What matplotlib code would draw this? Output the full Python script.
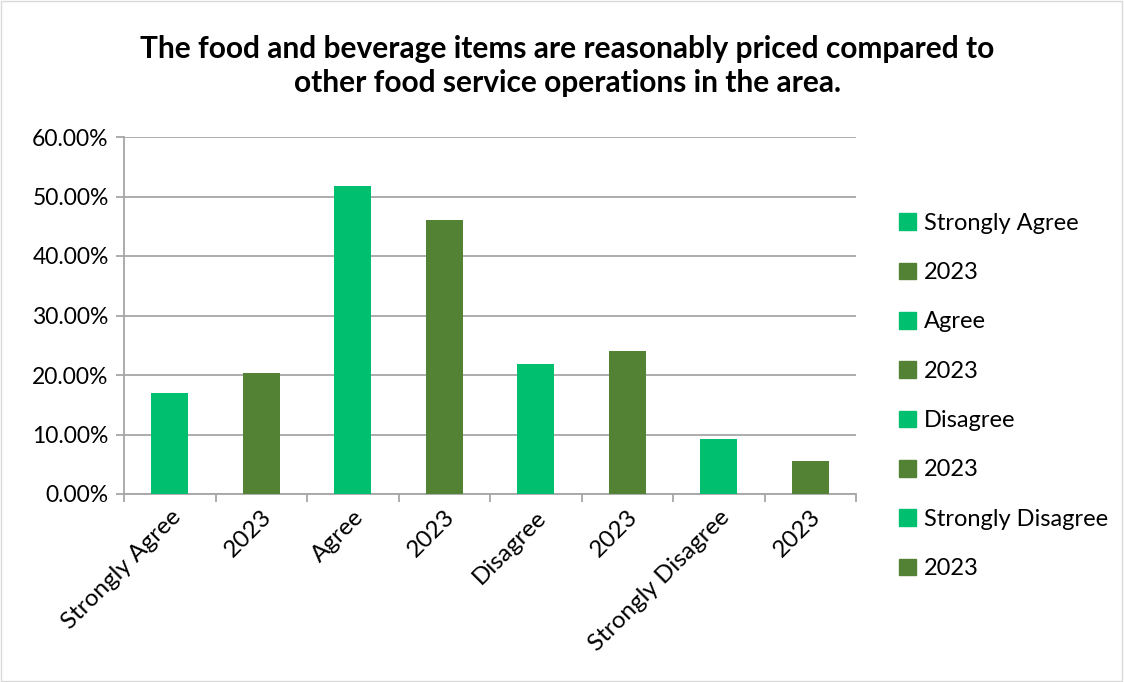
import matplotlib.pyplot as plt
from matplotlib.patches import Patch
from matplotlib.ticker import FuncFormatter

# data
categories = ['Strongly Agree', '2023', 'Agree', '2023', 'Disagree', '2023',
              'Strongly Disagree', '2023']
values = [16.9, 20.4, 51.7, 46.0, 21.9, 24.0, 9.2, 5.6]
bar_colors = ['#00BF6F', '#548235'] * 4

title = ('The food and beverage items are reasonably priced compared to\n'
         'other food service operations in the area.')

plt.rcParams['font.family'] = ['Lato', 'DejaVu Sans']

fig = plt.figure(figsize=(11.24, 6.82), dpi=100)
ax = fig.add_axes([124 / 1124, 1 - 494 / 682, 732 / 1124, 357 / 682])

x = range(len(categories))
bars = ax.bar(x, values, width=0.4, color=bar_colors, zorder=3)

ax.set_xlim(-0.5, len(categories) - 0.5)
ax.set_ylim(0, 60)
ax.set_yticks(range(0, 61, 10))
ax.yaxis.set_major_formatter(FuncFormatter(lambda v, p: '%.2f%%' % v))
ax.grid(axis='y', color='#A6A6A6', linewidth=1.3, zorder=0)

# tick marks sit between categories, labels at centres
ax.set_xticks([i + 0.5 for i in range(-1, len(categories))])
ax.set_xticklabels([])
ax.set_xticks(list(x), minor=True)
ax.set_xticklabels(categories, minor=True, rotation=45, ha='right',
                   rotation_mode='anchor', fontsize=17.5)
ax.tick_params(axis='x', which='minor', length=0, pad=9)
ax.tick_params(axis='x', which='major', length=6, color='#A6A6A6', width=1.3)
ax.tick_params(axis='y', length=6, color='#A6A6A6', width=1.3, labelsize=16.5,
               pad=5)

for side in ['top', 'right']:
    ax.spines[side].set_visible(False)
for side in ['left', 'bottom']:
    ax.spines[side].set_color('#A6A6A6')
    ax.spines[side].set_linewidth(1.3)

fig.text(0.505, 1 - 66 / 682, title, ha='center', va='center',
         fontsize=21.5, fontweight='bold', linespacing=1.25)

handles = [Patch(color=c, label=l) for c, l in zip(bar_colors, categories)]
fig.legend(handles=handles, loc='center left',
           bbox_to_anchor=(878 / 1124, 1 - 396 / 682), frameon=False,
           fontsize=17, labelspacing=1.2, handlelength=0.7,
           handleheight=0.7, handletextpad=0.35)

# chart area border
fig.patches.append(plt.Rectangle((0.001, 0.001), 0.997, 0.997,
                                 transform=fig.transFigure, fill=False,
                                 edgecolor='#D9D9D9', linewidth=1))

fig.savefig('out.png', dpi=100)
